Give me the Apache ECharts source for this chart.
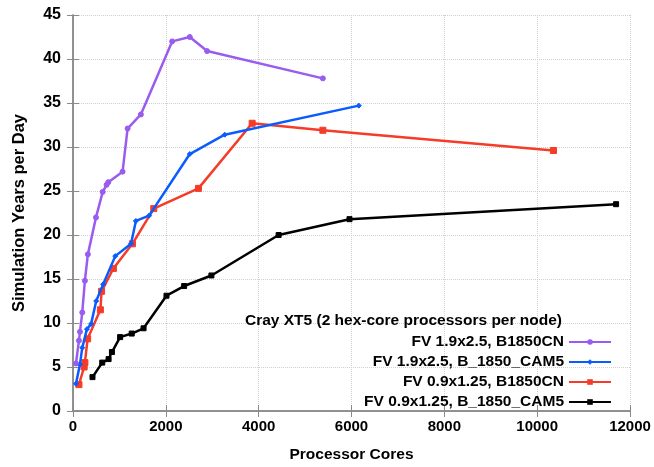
<!DOCTYPE html>
<html><head><meta charset="utf-8">
<script src="https://cdn.jsdelivr.net/npm/echarts@6/dist/echarts.min.js"></script>
<style>html,body{margin:0;padding:0;background:#fff}#c{width:654px;height:467px}</style>
</head><body><div id="c"></div>
<script>
var seriesNames = ['FV 1.9x2.5, B1850CN','FV 1.9x2.5, B_1850_CAM5','FV 0.9x1.25, B1850CN','FV 0.9x1.25, B_1850_CAM5'];
var legendTitle = 'Cray XT5 (2 hex-core processors per node)';
var xTitle = 'Processor Cores';
var yTitle = 'Simulation Years per Day';
var xTicks = [0,2000,4000,6000,8000,10000,12000];
var yTicks = [0,5,10,15,20,25,30,35,40,45];
var purpleCores = [64,128,150,200,256,320,495,640,724,760,1068,1176,1462,2136,2516,2889,5383];
var purpleSYPD  = [5.4,8.0,9.0,11.2,14.8,17.8,22.0,24.9,25.7,26.0,27.2,32.1,33.7,42.0,42.5,40.9,37.8];
var blueCores = [64,150,200,300,390,500,650,910,1250,1355,1640,2516,3269,6157];
var blueSYPD  = [3.1,5.3,7.2,9.3,9.9,12.5,14.4,17.6,19.0,21.6,22.2,29.2,31.4,34.7];
var redCores = [128,240,256,315,590,616,870,1280,1740,2703,3860,5383,10351];
var redSYPD  = [3.0,5.0,5.5,8.2,11.5,13.6,16.2,19.0,23.0,25.3,32.7,31.9,29.6];
var blackCores = [420,630,767,839,1015,1265,1520,2014,2394,2982,4430,5957,11700];
var blackSYPD  = [3.85,5.5,5.9,6.7,8.4,8.8,9.4,13.1,14.2,15.4,20.0,21.8,23.5];

function pairs(xs, ys){ return xs.map(function(x,i){return [x, ys[i]];}); }
var colors = ['#9a5cf0','#0a5cff','#f53c28','#000000'];
var symbols = ['circle','diamond','rect','rect'];
var symSizes = [5,5,6,5];
var datas = [pairs(purpleCores,purpleSYPD), pairs(blueCores,blueSYPD), pairs(redCores,redSYPD), pairs(blackCores,blackSYPD)];
var FONT = '"Liberation Sans", Arial, sans-serif';
var axisGrey = '#8a8a8a';

var legendTops = [334, 354, 374, 394];
var legends = seriesNames.map(function(n,i){
  return {
    data:[n], right: 42, top: legendTops[i], align:'right', orient:'vertical',
    itemWidth: 42, itemHeight: 7, padding:0,
    textStyle:{fontFamily:FONT, fontWeight:'bold', fontSize:15.5, color:'#000'},
    selectedMode:false
  };
});

var chart = echarts.init(document.getElementById('c'), null, {renderer:'canvas'});
chart.setOption({
  animation:false,
  backgroundColor:'#fff',
  title:{text:legendTitle, right: 92, top: 313, padding:0,
    textStyle:{fontFamily:FONT, fontWeight:'bold', fontSize:15.5, color:'#000'}},
  legend: legends,
  grid:{left:73, right:24, top:15, bottom:56, containLabel:false, outerBoundsMode:'none'},
  xAxis:[{
    type:'value', min:0, max:12000, interval:2000,
    name:xTitle, nameLocation:'middle', nameGap:36,
    nameTextStyle:{fontFamily:FONT, fontWeight:'bold', fontSize:15.5, color:'#000'},
    axisLine:{show:true, lineStyle:{color:axisGrey, width:1.5}},
    axisTick:{show:true, inside:true, length:6, lineStyle:{color:axisGrey}},
    axisLabel:{fontFamily:FONT, fontWeight:'bold', fontSize:15, color:'#000', margin:8,
      formatter:function(v){return String(v);}},
    splitLine:{show:true, lineStyle:{color:'#d0d0d0', type:'dotted', width:1}}
  },{
    type:'value', position:'top', min:0, max:12000, interval:2000,
    axisLine:{show:true, lineStyle:{color:axisGrey, width:1.5}},
    axisTick:{show:true, inside:true, length:6, lineStyle:{color:axisGrey}},
    axisLabel:{show:false}, splitLine:{show:false}
  }],
  yAxis:[{
    type:'value', min:0, max:45, interval:5,
    name:yTitle, nameLocation:'middle', nameGap:45,
    nameTextStyle:{fontFamily:FONT, fontWeight:'bold', fontSize:16.5, color:'#000'},
    axisLine:{show:true, lineStyle:{color:axisGrey, width:1.5}},
    axisTick:{show:true, inside:true, length:6, lineStyle:{color:axisGrey}},
    axisLabel:{fontFamily:FONT, fontWeight:'bold', fontSize:16, color:'#000', margin:12},
    splitLine:{show:true, lineStyle:{color:'#d0d0d0', type:'dotted', width:1}}
  },{
    type:'value', position:'right', min:0, max:45, interval:5,
    axisLine:{show:true, lineStyle:{color:axisGrey, width:1.5}},
    axisTick:{show:true, inside:true, length:6, lineStyle:{color:axisGrey}},
    axisLabel:{show:false}, splitLine:{show:false}
  }],
  series: seriesNames.map(function(n,i){
    return {
      name:n, type:'line', data:datas[i], xAxisIndex:0, yAxisIndex:0,
      symbol:symbols[i], symbolSize:symSizes[i], showSymbol:true,
      lineStyle:{color:colors[i], width:2.5},
      itemStyle:{color:colors[i], borderColor:colors[i]},
      z: 10 - i
    };
  })
});
</script>
</body></html>
